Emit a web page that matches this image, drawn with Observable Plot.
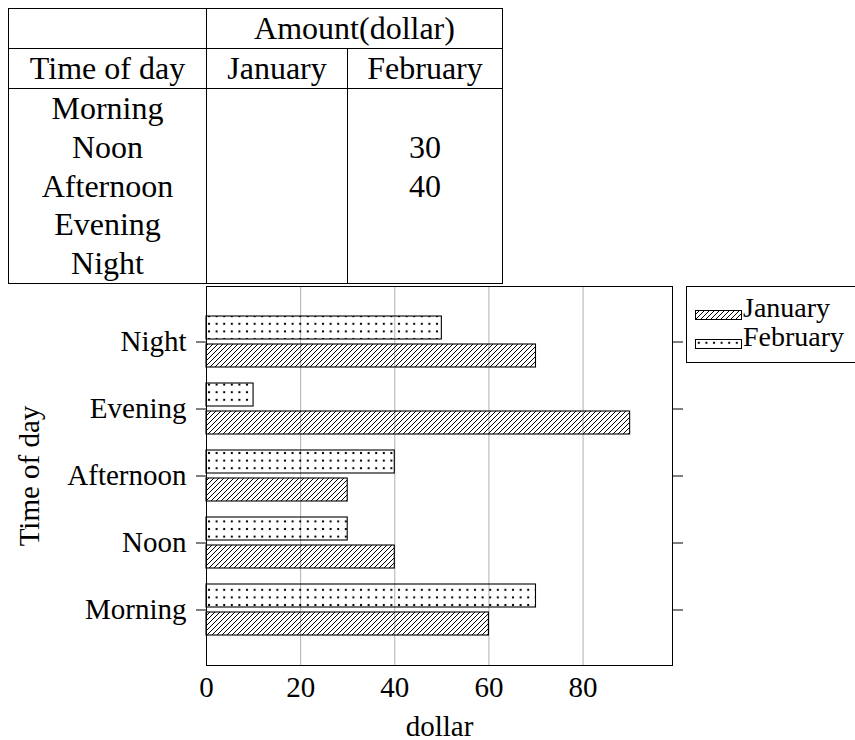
<!DOCTYPE html>
<html><head><meta charset="utf-8">
<script src="https://cdn.jsdelivr.net/npm/d3@7"></script>
<script src="https://cdn.jsdelivr.net/npm/@observablehq/plot@0.6"></script>
<style>
body{margin:0;background:#fff;font-family:'Liberation Serif','DejaVu Serif',serif;color:#000;}
#wrap{position:relative;width:855px;height:740px;overflow:hidden;}
#tbl{position:absolute;left:8px;top:8px;border-collapse:collapse;table-layout:fixed;font-size:32px;width:495px;font-family:'Liberation Serif','DejaVu Serif',serif;}
#tbl td{padding:0;text-align:center;white-space:nowrap;overflow:hidden;}
#tbl tr.head td{border:1px solid #000;height:39px;line-height:39px;}
#tbl tr.body td{border-left:1px solid #000;border-right:1px solid #000;height:38.8px;line-height:38.8px;}
#tbl tr.last td{border-bottom:1px solid #000;}
#chart{position:absolute;left:0;top:282px;}
#chart svg, #chart svg text{font-family:'Liberation Serif','DejaVu Serif',serif !important;}
#legend{position:absolute;left:686px;top:286px;width:190px;height:77px;border:1px solid #000;background:#fff;font-size:28px;padding-top:6px;box-sizing:border-box;padding-left:8px;font-family:'Liberation Serif','DejaVu Serif',serif;}
#legend .row{height:29px;line-height:29px;white-space:nowrap;}
#legend svg{vertical-align:-3px;margin-right:1px;}
</style>
</head><body>
<div id="wrap">
<svg width="0" height="0" style="position:absolute">
  <defs>
    <pattern id="hatchJan" patternUnits="userSpaceOnUse" width="5" height="5">
      <path d="M-1,1 L1,-1 M0,5 L5,0 M4,6 L6,4" stroke="#000" stroke-width="1" fill="none"/>
    </pattern>
    <pattern id="dotsFeb" patternUnits="userSpaceOnUse" width="7.6" height="7.6">
      <rect x="2.8" y="2.8" width="2" height="2" fill="#000"/>
    </pattern>
  </defs>
</svg>
<table id="tbl"></table>
<div id="chart"></div>
<div id="legend"></div>
</div>
<script>
// ---- data ----
const times = ["Morning", "Noon", "Afternoon", "Evening", "Night"];
const january = [60, 40, 30, 90, 70];
const february = [70, 30, 40, 10, 50];
const xTicks = [0, 20, 40, 60, 80];
const seriesNames = ["January", "February"];
const seriesFills = ["url(#hatchJan)", "url(#dotsFeb)"];
const tableHeaderTop = ["", "Amount(dollar)"];
const tableHeader = ["Time of day", "January", "February"];
const tableJanuary = ["", "", "", "", ""];
const tableFebruary = ["", "30", "40", "", ""];

// ---- table ----
const tbl = d3.select("#tbl");
const cg = tbl.append("colgroup");
[198, 141, 155].forEach(w => cg.append("col").style("width", w + "px"));
const r0 = tbl.append("tr").attr("class", "head");
r0.append("td").text(tableHeaderTop[0]);
r0.append("td").attr("colspan", 2).text(tableHeaderTop[1]);
const r1 = tbl.append("tr").attr("class", "head");
tableHeader.forEach(h => r1.append("td").text(h));
times.forEach((t, i) => {
  const r = tbl.append("tr").attr("class", "body" + (i === times.length - 1 ? " last" : ""));
  r.append("td").text(t);
  r.append("td").text(tableJanuary[i]);
  r.append("td").text(tableFebruary[i]);
});

// ---- chart ----
const janData = times.map((t, i) => ({time: t, value: january[i]}));
const febData = times.map((t, i) => ({time: t, value: february[i]}));
const chart = Plot.plot({
  width: 855, height: 458,
  marginLeft: 206, marginRight: 183, marginTop: 4, marginBottom: 75,
  style: {fontFamily: "'Liberation Serif','DejaVu Serif',serif", fontSize: "29px", color: "black", background: "transparent", overflow: "visible"},
  x: {domain: [0, 99]},
  y: {type: "band", domain: times.slice().reverse(), paddingInner: 0.24, paddingOuter: 0.41},
  marks: [
    Plot.gridX(xTicks.slice(1), {stroke: "#b0b0b0", strokeOpacity: 1, strokeWidth: 1}),
    Plot.barX(janData, {x: "value", y: "time", fill: seriesFills[0], stroke: "black", strokeWidth: 1.1, insetTop: 28}),
    Plot.barX(febData, {x: "value", y: "time", fill: seriesFills[1], stroke: "black", strokeWidth: 1.1, insetBottom: 28}),
    Plot.frame({stroke: "black", strokeWidth: 1}),
    Plot.axisY({anchor: "left", tickSize: 10, tickPadding: 10, label: "Time of day", labelAnchor: "center", labelOffset: 188, labelArrow: "none"}),
    Plot.axisY({anchor: "right", tickSize: 10, tickFormat: () => "", label: null}),
    Plot.axisX({ticks: xTicks, tickSize: 0, tickPadding: 11, label: "dollar", labelAnchor: "center", labelOffset: 70, labelArrow: "none"})
  ]
});
document.getElementById("chart").appendChild(chart);

// ---- legend ----
const lg = d3.select("#legend");
seriesNames.forEach((name, i) => {
  const row = lg.append("div").attr("class", "row");
  const s = row.append("svg").attr("width", 47).attr("height", 10);
  s.append("rect").attr("x", 0.5).attr("y", 0.5).attr("width", 46).attr("height", 9)
    .attr("fill", seriesFills[i]).attr("stroke", "#000").attr("stroke-width", 1);
  row.append("span").text(name);
});
</script>
</body></html>
